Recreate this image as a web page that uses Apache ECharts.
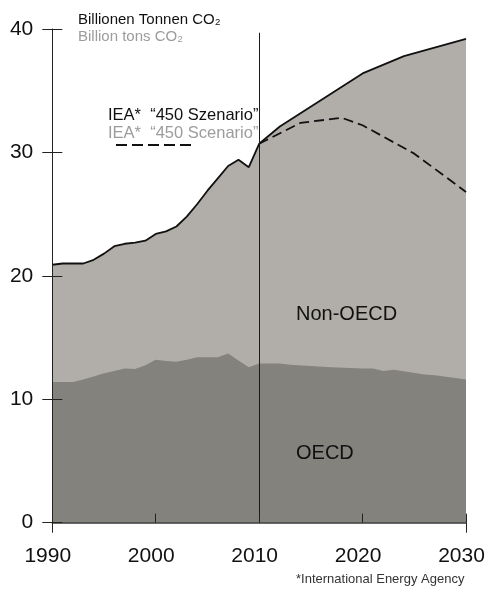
<!DOCTYPE html>
<html>
<head>
<meta charset="utf-8">
<script src="https://cdn.jsdelivr.net/npm/echarts@6/dist/echarts.min.js"></script>
<style>
html,body{margin:0;padding:0;background:#fff;}
#chart{width:486px;height:589px;}
</style>
</head>
<body>
<div id="chart"></div>
<script>
// ---- data ----
const xTicks = [1990, 2000, 2010, 2020, 2030];
const yTicks = [0, 10, 20, 30, 40];
const dividerYear = 2010;

const histYears = [1990,1991,1992,1993,1994,1995,1996,1997,1998,1999,2000,2001,2002,2003,2004,2005,2006,2007,2008,2009,2010];
const totalHist = [20.9,21.0,21.0,21.0,21.3,21.8,22.4,22.6,22.7,22.85,23.4,23.6,24.0,24.8,25.8,26.9,27.9,28.9,29.4,28.8,30.7];

const projYears = [2012, 2020, 2024, 2030];
const totalProj = [32.1, 36.4, 37.8, 39.2];

const scenarioYears = [2010, 2014, 2018, 2020, 2025, 2030];
const scenario450 = [30.7, 32.4, 32.8, 32.2, 29.9, 26.8];

const oecdYears = [1990,1991,1992,1993,1994,1995,1996,1997,1998,1999,2000,2001,2002,2003,2004,2005,2006,2007,2008,2009,2010,
                   2012,2013,2015,2017,2020,2021,2022,2023,2026,2027,2030];
const oecdValues = [11.4,11.4,11.4,11.6,11.85,12.1,12.3,12.5,12.45,12.75,13.2,13.1,13.05,13.2,13.4,13.4,13.4,13.7,13.15,12.6,12.9,
                    12.9,12.8,12.7,12.6,12.5,12.5,12.3,12.4,12.0,11.95,11.6];

// ---- build ----
const pairs = (xs, ys) => xs.map((x, i) => [x, ys[i]]);
const totalData = pairs(histYears, totalHist).concat(pairs(projYears, totalProj));
const oecdData = pairs(oecdYears, oecdValues);
const scenarioData = pairs(scenarioYears, scenario450);

const FONT = '"Liberation Sans", Arial, Helvetica, sans-serif';
const chart = echarts.init(document.getElementById('chart'), null, {renderer: 'canvas'});

const option = {
  animation: false,
  backgroundColor: '#ffffff',
  textStyle: {fontFamily: FONT},
  grid: {left: 52.3, right: 20, top: 29, bottom: 66.3, containLabel: false, outerBoundsMode: 'none'},
  xAxis: [
    {
      type: 'value', min: xTicks[0], max: xTicks[xTicks.length - 1], interval: 10, z: 10,
      axisLine: {show: true, lineStyle: {color: '#3a3a3a', width: 1.5}},
      axisTick: {show: true, inside: true, length: 9, lineStyle: {color: '#222', width: 1}},
      axisLabel: {show: true, margin: 23, fontSize: 21, color: '#111', fontFamily: FONT,
                  hideOverlap: false,
                  formatter: v => '{l|' + v + '}',
                  rich: {l: {fontSize: 21, color: '#111', fontFamily: FONT, padding: [0, 9, 0, 0]}}},
      splitLine: {show: false}
    },
    {
      type: 'value', position: 'bottom', min: xTicks[0], max: xTicks[xTicks.length - 1], interval: 40, z: 10,
      axisLine: {show: false},
      axisTick: {show: true, inside: false, length: 10, lineStyle: {color: '#222', width: 1}},
      axisLabel: {show: false},
      splitLine: {show: false}
    }
  ],
  yAxis: [
    {
      type: 'value', min: yTicks[0], max: yTicks[yTicks.length - 1], interval: 10, z: 10,
      axisLine: {show: true, lineStyle: {color: '#222', width: 1}},
      axisTick: {show: true, inside: false, length: 10, lineStyle: {color: '#222', width: 1}},
      axisLabel: {show: true, margin: 19, fontSize: 21, color: '#111', fontFamily: FONT},
      splitLine: {show: false}
    },
    {
      type: 'value', position: 'left', offset: 0, min: yTicks[0], max: yTicks[yTicks.length - 1], interval: 10, z: 10,
      axisLine: {show: false},
      axisTick: {show: true, inside: true, length: 10, lineStyle: {color: '#222', width: 1}},
      axisLabel: {show: false},
      splitLine: {show: false}
    }
  ],
  series: [
    {
      name: 'Total', type: 'line', data: totalData, symbol: 'none', z: 2,
      lineStyle: {color: '#111', width: 1.8},
      areaStyle: {color: '#b1aea9', opacity: 1},
      silent: true
    },
    {
      name: 'OECD', type: 'line', data: oecdData, symbol: 'none', z: 3,
      lineStyle: {width: 0, color: '#84827c'},
      areaStyle: {color: '#84827c', opacity: 1},
      silent: true,
      markLine: {
        silent: true, symbol: 'none', z: 6,
        label: {show: false},
        lineStyle: {color: '#1a1a1a', width: 1, type: 'solid'},
        data: [[{coord: [dividerYear, 0]}, {coord: [dividerYear, 39.7]}]]
      }
    },
    {
      name: 'IEA 450', type: 'line', data: scenarioData, symbol: 'none', z: 5,
      lineStyle: {color: '#111', width: 1.8, type: [10, 5]},
      silent: true
    }
  ],
  graphic: [
    {type: 'text', z: 10, style: {text: 'Billionen Tonnen CO₂', x: 78, y: 20, font: '15px ' + FONT, fill: '#111', verticalAlign: 'middle', textVerticalAlign: 'middle'}},
    {type: 'text', z: 10, style: {text: 'Billion tons CO₂', x: 78, y: 37, font: '15px ' + FONT, fill: '#9c9c9c', verticalAlign: 'middle', textVerticalAlign: 'middle'}},
    {type: 'text', z: 10, style: {text: 'IEA*  “450 Szenario”', x: 108, y: 115, font: '16.5px ' + FONT, fill: '#111', verticalAlign: 'middle', textVerticalAlign: 'middle'}},
    {type: 'text', z: 10, style: {text: 'IEA*  “450 Scenario”', x: 108, y: 133, font: '16.5px ' + FONT, fill: '#9c9c9c', verticalAlign: 'middle', textVerticalAlign: 'middle'}},
    {type: 'line', z: 10, shape: {x1: 116, y1: 145, x2: 193, y2: 145}, style: {stroke: '#111', lineWidth: 2, lineDash: [11, 5]}},
    {type: 'text', z: 10, style: {text: 'Non-OECD', x: 296, y: 314, font: '20px ' + FONT, fill: '#111', verticalAlign: 'middle', textVerticalAlign: 'middle'}},
    {type: 'text', z: 10, style: {text: 'OECD', x: 296, y: 453, font: '20px ' + FONT, fill: '#111', verticalAlign: 'middle', textVerticalAlign: 'middle'}},
    {type: 'text', z: 10, style: {text: '*International Energy Agency', x: 296, y: 579, font: '13px ' + FONT, fill: '#333', verticalAlign: 'middle', textVerticalAlign: 'middle'}}
  ]
};
chart.setOption(option);
</script>
</body>
</html>
